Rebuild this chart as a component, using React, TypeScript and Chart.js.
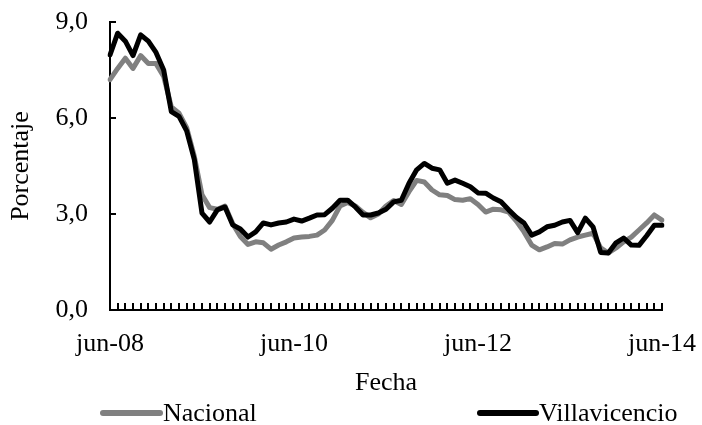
import React, { useEffect, useRef } from 'react';
import { Chart, registerables } from 'chart.js';

Chart.register(...registerables);

const MONTHS = ['ene', 'feb', 'mar', 'abr', 'may', 'jun', 'jul', 'ago', 'sep', 'oct', 'nov', 'dic'];
const START_MONTH = 5; // jun
const START_YEAR = 8; // 2008
const N_MONTHS = 73; // jun-08 .. jun-14

const categories: string[] = [];
for (let i = 0; i < N_MONTHS; i++) {
  const k = START_MONTH + i;
  const yy = START_YEAR + Math.floor(k / 12);
  categories.push(`${MONTHS[k % 12]}-${String(yy).padStart(2, '0')}`);
}

const LABEL_EVERY = 24;

const nacional: number[] = [
  7.2, 7.55, 7.87, 7.55, 7.95, 7.7, 7.7, 7.3, 6.35, 6.15, 5.7, 4.8,
  3.6, 3.2, 3.15, 3.25, 2.7, 2.3, 2.05, 2.13, 2.1, 1.9, 2.03, 2.13,
  2.25, 2.28, 2.3, 2.34, 2.5, 2.8, 3.25, 3.36, 3.25, 3.05, 2.88, 3.0,
  3.25, 3.42, 3.3, 3.7, 4.05, 4.0, 3.75, 3.6, 3.58, 3.45, 3.43, 3.48,
  3.3, 3.06, 3.15, 3.13, 3.06, 2.78, 2.44, 2.03, 1.88, 1.97, 2.08, 2.06,
  2.19, 2.28, 2.34, 2.4, 1.94, 1.78, 1.94, 2.13, 2.28, 2.5, 2.72, 2.97,
  2.81,
];

const villavicencio: number[] = [
  7.97, 8.65, 8.4, 7.95, 8.6, 8.4, 8.05, 7.5, 6.2, 6.05, 5.6, 4.7,
  3.03, 2.75, 3.13, 3.22, 2.66, 2.53, 2.28, 2.44, 2.72, 2.66, 2.72, 2.75,
  2.84, 2.78, 2.87, 2.97, 2.98, 3.18, 3.43, 3.43, 3.22, 2.97, 2.97, 3.03,
  3.15, 3.38, 3.43, 3.96, 4.38, 4.58, 4.43, 4.38, 3.96, 4.06, 3.96, 3.85,
  3.66, 3.65, 3.5, 3.38, 3.13, 2.9, 2.72, 2.34, 2.44, 2.6, 2.65, 2.75,
  2.8, 2.42, 2.87, 2.6, 1.8, 1.78, 2.1, 2.25, 2.03, 2.02, 2.32, 2.65,
  2.65,
];

const FONT_FAMILY = '"Liberation Serif", "Times New Roman", Times, serif';
const FONT_SIZE = 26;

const lineLegend = {
  id: 'lineLegend',
  afterDraw(chart: any) {
    const ctx = chart.ctx as CanvasRenderingContext2D;
    const slots = [
      { x: 103, len: 57, gap: 3 },
      { x: 480, len: 56, gap: 3 },
    ];
    const y = 413;
    ctx.save();
    chart.data.datasets.forEach((ds: any, i: number) => {
      const s = slots[i];
      if (!s) return;
      ctx.beginPath();
      ctx.strokeStyle = ds.borderColor;
      ctx.lineWidth = 6;
      ctx.lineCap = 'round';
      ctx.moveTo(s.x, y);
      ctx.lineTo(s.x + s.len, y);
      ctx.stroke();
      ctx.fillStyle = '#000';
      ctx.font = `${FONT_SIZE}px ${FONT_FAMILY}`;
      ctx.textAlign = 'left';
      ctx.textBaseline = 'middle';
      ctx.fillText(ds.label, s.x + s.len + s.gap, y + 1);
    });
    ctx.restore();
  },
};

export default function App() {
  const ref = useRef<HTMLCanvasElement | null>(null);

  useEffect(() => {
    if (!ref.current) return;
    Chart.defaults.font.family = FONT_FAMILY;
    Chart.defaults.font.size = FONT_SIZE;
    Chart.defaults.color = '#000';

    const chart = new Chart(ref.current, {
      type: 'line',
      data: {
        labels: categories,
        datasets: [
          {
            label: 'Nacional',
            data: nacional,
            borderColor: '#808080',
            backgroundColor: '#808080',
            borderWidth: 5,
            pointRadius: 0,
            tension: 0,
            fill: false,
            borderJoinStyle: 'round',
            borderCapStyle: 'round',
            order: 1,
          },
          {
            label: 'Villavicencio',
            data: villavicencio,
            borderColor: '#000000',
            backgroundColor: '#000000',
            borderWidth: 5,
            pointRadius: 0,
            tension: 0,
            fill: false,
            borderJoinStyle: 'round',
            borderCapStyle: 'round',
            order: 0,
          },
        ],
      },
      options: {
        responsive: false,
        animation: false,
        layout: { padding: { top: 22, right: 40, bottom: 0, left: 0 } },
        plugins: {
          legend: { display: false },
          tooltip: { enabled: false },
        },
        scales: {
          x: {
            type: 'category',
            offset: false,
            grid: {
              drawOnChartArea: false,
              tickLength: -7,
              color: '#000',
              lineWidth: 2,
            },
            border: { color: '#000', width: 2 },
            ticks: {
              autoSkip: false,
              maxRotation: 0,
              minRotation: 0,
              padding: 26,
              color: '#000',
              font: { size: FONT_SIZE, family: FONT_FAMILY },
              callback: (_v: any, i: number) => (i % LABEL_EVERY === 0 ? categories[i] : ''),
            },
            title: {
              display: true,
              text: 'Fecha',
              color: '#000',
              font: { size: FONT_SIZE, family: FONT_FAMILY },
              padding: { top: 0, bottom: 26 },
            },
            afterFit: (s: any) => {
              s.height = 115;
              s.paddingLeft = 0;
              s.paddingRight = 0;
            },
          },
          y: {
            min: 0,
            max: 9,
            grid: {
              drawOnChartArea: false,
              tickLength: -6,
              color: '#000',
              lineWidth: 2,
            },
            border: { color: '#000', width: 2 },
            ticks: {
              stepSize: 3,
              padding: 28,
              color: '#000',
              font: { size: FONT_SIZE, family: FONT_FAMILY },
              callback: (v: any) => Number(v).toFixed(1).replace('.', ','),
            },
            title: {
              display: true,
              text: 'Porcentaje',
              color: '#000',
              font: { size: FONT_SIZE, family: FONT_FAMILY },
              padding: { top: 6, bottom: 0 },
            },
            afterFit: (s: any) => {
              s.width = 110;
              s.paddingTop = 0;
              s.paddingBottom = 0;
            },
          },
        },
      },
      plugins: [lineLegend],
    } as any);

    return () => chart.destroy();
  }, []);

  return (
    <div style={{ position: 'fixed', left: 0, top: 0, width: 702, height: 425, background: '#fff' }}>
      <canvas ref={ref} width={702} height={425} />
    </div>
  );
}
